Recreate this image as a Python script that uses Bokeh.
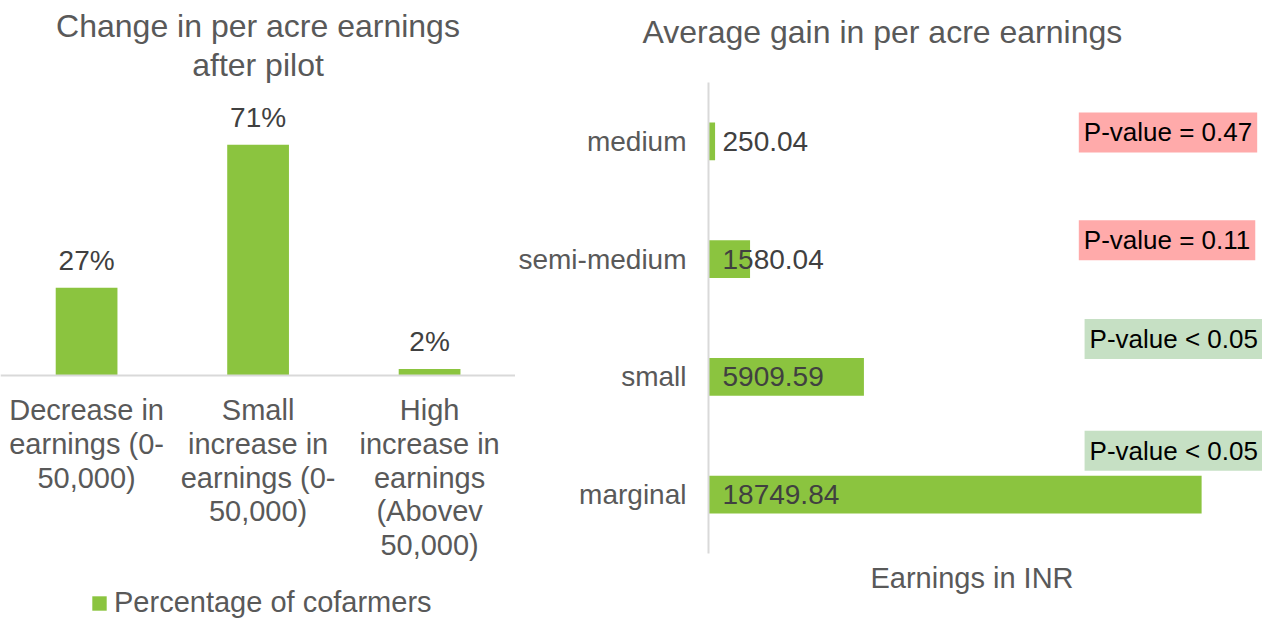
from bokeh.plotting import figure
from bokeh.models import (Range1d, FixedTicker, Title, Legend, LegendItem, Label, Span,
                          ColumnDataSource)
from bokeh.layouts import row
from bokeh.embed import file_html
from bokeh.resources import INLINE
from bokeh.core.properties import value

FONT = "Liberation Sans"
GREEN = "#8BC43F"
GREY = "#595959"
DARK = "#404040"
AXIS = "#D9D9D9"

# ---------------- data ----------------
change_categories = [
    "Decrease in\nearnings (0-\n50,000)",
    "Small\nincrease in\nearnings (0-\n50,000)",
    "High\nincrease in\nearnings\n(Abovev\n50,000)",
]
change_percent = [27, 71, 2]
legend_label = "Percentage of cofarmers"

farmer_classes = ["marginal", "small", "semi-medium", "medium"]
avg_gain = [18749.84, 5909.59, 1580.04, 250.04]
p_value_text = ["P-value < 0.05", "P-value < 0.05", "P-value = 0.11", "P-value = 0.47"]
p_significant = [True, True, False, False]

H = 618

# ---------------- left chart ----------------
p1 = figure(width=515, height=H, output_backend="svg", toolbar_location=None,
            x_range=Range1d(-0.502, 2.501), y_range=Range1d(-74.8, 90.15),
            min_border_left=0, min_border_right=0, min_border_top=82, min_border_bottom=0,
            x_axis_location=None, y_axis_location=None, title=None)
p1.outline_line_color = None
p1.grid.visible = False

xs = list(range(len(change_categories)))
src1 = ColumnDataSource(dict(x=xs, pct=change_percent, lbl=[f"{v}%" for v in change_percent],
                             cat=change_categories, zero=[0] * len(xs)))
bars = p1.vbar(x="x", top="pct", bottom=0, width=0.36, source=src1,
               fill_color=GREEN, line_color=None)
p1.add_layout(Span(location=0, dimension="width", line_color=AXIS, line_width=2))
p1.text(x="x", y="pct", text="lbl", source=src1, text_align="center", text_baseline="bottom",
        y_offset=-12, text_font=value(FONT), text_font_size="28px", text_color=DARK)
p1.text(x="x", y="zero", text="cat", source=src1, text_align="center", text_baseline="top",
        y_offset=19, text_line_height=1.05, text_font=value(FONT), text_font_size="29px",
        text_color=GREY)

legend = Legend(items=[LegendItem(label=legend_label, renderers=[bars])],
                orientation="horizontal", location=(90, -1),
                label_text_font=FONT, label_text_font_size="29px", label_text_color=GREY,
                glyph_width=18, glyph_height=18, label_standoff=6,
                border_line_color=None, background_fill_alpha=0, padding=0, margin=0)
p1.add_layout(legend)

p1.add_layout(Title(text="after pilot", align="center", text_font=FONT, text_font_size="32px",
                    text_font_style="normal", text_color=GREY, standoff=0), "above")
p1.add_layout(Title(text="Change in per acre earnings", align="center", text_font=FONT,
                    text_font_size="32px", text_font_style="normal", text_color=GREY,
                    standoff=1), "above")

# ---------------- right chart ----------------
ypos = [i + 0.5 for i in range(len(farmer_classes))]
p2 = figure(width=747, height=H, output_backend="svg", toolbar_location=None,
            y_range=Range1d(-0.552, 4), x_range=Range1d(0, 21065),
            min_border_left=192, min_border_right=0, min_border_top=82, min_border_bottom=0,
            x_axis_location=None, title=None)
p2.outline_line_color = None
p2.grid.visible = False

src2 = ColumnDataSource(dict(y=ypos, gain=avg_gain, lbl=[f"{v:.2f}" for v in avg_gain]))
p2.hbar(y="y", right="gain", left=0, height=0.32, source=src2,
        fill_color=GREEN, line_color=None)
p2.text(x=0, y="y", text="lbl", source=src2, x_offset=14, text_align="left",
        text_baseline="middle", text_font=value(FONT), text_font_size="28px", text_color=DARK)

ya = p2.yaxis[0]
ya.ticker = FixedTicker(ticks=ypos)
ya.major_label_overrides = {y: c for y, c in zip(ypos, farmer_classes)}
ya.bounds = (0, len(farmer_classes))
ya.axis_line_color = AXIS
ya.axis_line_width = 2
ya.major_tick_line_color = None
ya.major_tick_out = 0
ya.major_tick_in = 0
ya.minor_tick_line_color = None
ya.minor_tick_out = 0
ya.major_label_text_font = FONT
ya.major_label_text_font_size = "28px"
ya.major_label_text_color = GREY
ya.major_label_standoff = 22

# x-axis title (drawn in the frame under the bars)
p2.text(x=[10020], y=[0], text=["Earnings in INR"], y_offset=24, text_align="center",
        text_baseline="middle", text_font=value(FONT), text_font_size="29px", text_color=GREY)

# spacer row between the frame and the chart title
p2.add_layout(Title(text=" ", text_font=FONT, text_font_size="28px", standoff=0), "above")
p2.add_layout(Title(text="Average gain in per acre earnings", align="left", offset=-66,
                    text_font=FONT, text_font_size="32px", text_font_style="normal",
                    text_color=GREY, standoff=0), "above")

pv_offsets = [44, 38, 19, 9]          # label lift above each category centre (px)
pv_x = [14300, 14300, 14080, 14080]   # label left edge (data units)
for y, txt, sig, dy, lx in zip(ypos, p_value_text, p_significant, pv_offsets, pv_x):
    p2.add_layout(Label(x=lx, y=y, y_offset=dy, text=txt, text_align="left",
                        text_baseline="middle", text_font=FONT, text_font_size="26px",
                        text_color="#000000",
                        background_fill_color="#C6E0C4" if sig else "#FFAAAA",
                        padding=5))

layout = row(p1, p2)
open("out.html", "w").write(file_html(layout, INLINE))
